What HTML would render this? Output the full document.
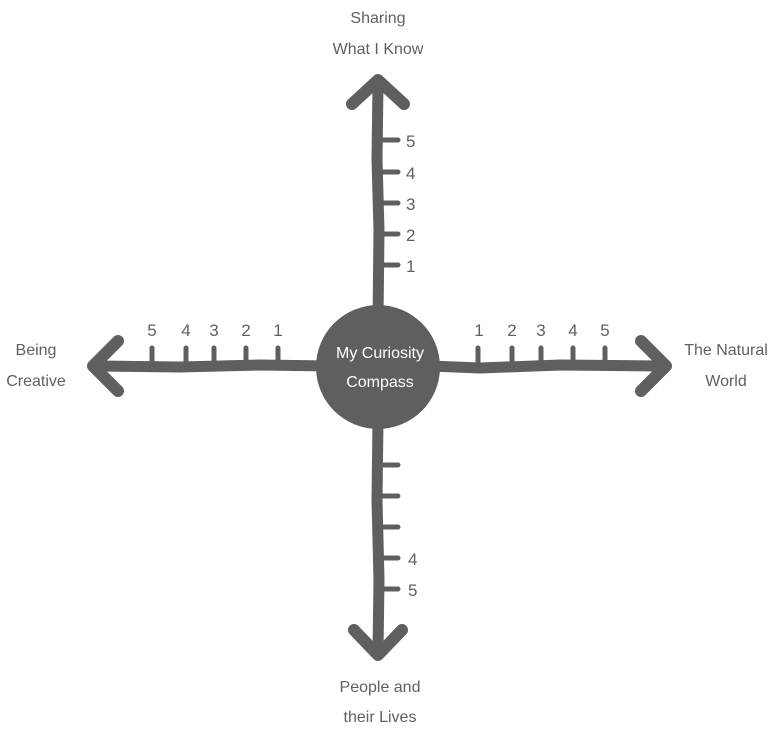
<!DOCTYPE html>
<html><head><style>
body{margin:0;background:#fff}
svg text{font-family:"Liberation Sans",sans-serif;fill:#606060}
</style></head><body>
<svg width="779" height="735" viewBox="0 0 779 735" xmlns="http://www.w3.org/2000/svg">
<g stroke="#5f5f5f" stroke-linecap="round" stroke-linejoin="round" fill="none">
<path d="M378 84 L377 160 L379 230 L378 320" stroke-width="11"/>
<path d="M378 420 L377 500 L379 580 L378 652" stroke-width="11"/>
<path d="M96 366 L180 367 L260 365 L330 366" stroke-width="11"/>
<path d="M430 366 L480 368 L560 365 L662 366" stroke-width="11"/>
<path d="M352 104 L378 80 L404 104" stroke-width="12"/>
<path d="M354 630 L378 655 L402 630" stroke-width="12"/>
<path d="M118 341 L93 366 L118 391" stroke-width="12"/>
<path d="M641 341 L666 366 L641 391" stroke-width="12"/>
<g stroke-width="5">
<path d="M380 140H398M380 172H398M380 203H398M380 234H398M380 265H398"/>
<path d="M380 465H398M380 496H398M380 527H398M380 558H398M380 589H398"/>
<path d="M478 348V364M512 348V364M541 348V364M573 348V364M605 348V364"/>
<path d="M152 348V364M186 348V364M214 348V364M246 348V364M278 348V364"/>
</g>
</g>
<circle cx="378" cy="367" r="62" fill="#5f5f5f"/>
<g font-size="17">
<text x="406" y="147">5</text><text x="406" y="179">4</text><text x="406" y="210">3</text><text x="406" y="241">2</text><text x="406" y="272">1</text>
<text x="408" y="565">4</text><text x="408" y="596">5</text>
<g text-anchor="middle">
<text x="479" y="336">1</text><text x="512" y="336">2</text><text x="541" y="336">3</text><text x="573" y="336">4</text><text x="605" y="336">5</text>
<text x="152" y="336">5</text><text x="186" y="336">4</text><text x="214" y="336">3</text><text x="246" y="336">2</text><text x="278" y="336">1</text>
</g></g>
<g font-size="16" text-anchor="middle">
<text x="378" y="23">Sharing</text><text x="378" y="54">What I Know</text>
<text x="380" y="692">People and</text><text x="380" y="722">their Lives</text>
<text x="36" y="355">Being</text><text x="36" y="386">Creative</text>
<text x="726" y="355">The Natural</text><text x="726" y="386">World</text>
<text x="380" y="358" style="fill:#fff">My Curiosity</text>
<text x="380" y="387" style="fill:#fff">Compass</text>
</g>
</svg>
</body></html>
